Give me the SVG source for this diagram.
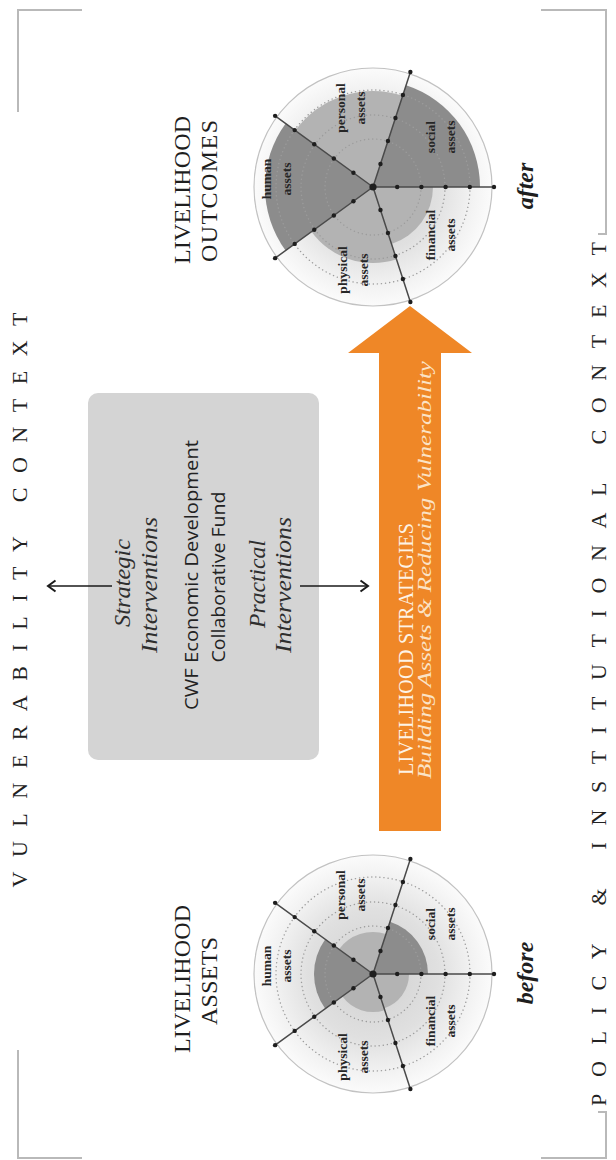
<svg xmlns="http://www.w3.org/2000/svg" xmlns:xlink="http://www.w3.org/1999/xlink" width="616" height="1160" viewBox="0 0 616 1160">
<defs>
<style>
.serif{font-family:"Liberation Serif","Times New Roman",serif;}
.sans{font-family:"Open Sans","Liberation Sans",Arial,sans-serif;}
.lbl{font-family:"Liberation Serif","Times New Roman",serif;font-size:13.5px;font-weight:bold;fill:#262626;}
.title{font-family:"Liberation Serif","Times New Roman",serif;font-size:24px;fill:#1e1e1e;}
.ctx{font-family:"Liberation Serif","Times New Roman",serif;font-size:22px;fill:#222;}
.ital{font-family:"Liberation Serif","Times New Roman",serif;font-style:italic;font-size:23px;fill:#2e2e2e;}
.bi{font-family:"Liberation Serif","Times New Roman",serif;font-style:italic;font-weight:bold;font-size:24px;fill:#1e1e1e;}
.dark{fill:#8c8c8c;}
.mid{fill:#b3b3b3;}
.ring{fill:none;stroke:#9c9c9c;stroke-width:1.4;stroke-dasharray:0.1 4;stroke-linecap:round;}
.axis{stroke:#4a4a4a;stroke-width:1.5;fill:none;}
.dot{fill:#1e1e1e;}
.bracket{stroke:#b9b9b9;stroke-width:2;fill:none;}
.conn{stroke:#1a1a1a;stroke-width:1.6;fill:none;}
</style>
<radialGradient id="bg" cx="50%" cy="50%" r="50%">
<stop offset="0" stop-color="#cfcfcf"/>
<stop offset="0.55" stop-color="#e0e0e0"/>
<stop offset="0.85" stop-color="#f3f3f3"/>
<stop offset="1" stop-color="#fbfbfb"/>
</radialGradient>
<marker id="chev" markerUnits="userSpaceOnUse" markerWidth="12" markerHeight="14" refX="9" refY="7" orient="auto">
<path d="M1.5,1.5 L9,7 L1.5,12.5" fill="none" stroke="#1a1a1a" stroke-width="2" stroke-linejoin="miter"/>
</marker>
<g id="axes">
<path class="axis" d="M0,0 L121,0 M0,0 L37.39,-115.07 M0,0 L-97.89,-71.15 M0,0 L-97.89,71.15 M0,0 L37.39,115.07"/>
<g class="dot">
<circle cx="0" cy="0" r="3.6"/>
<circle cx="24.2" cy="0" r="2.2"/><circle cx="48.4" cy="0" r="2.2"/><circle cx="72.6" cy="0" r="2.2"/><circle cx="96.8" cy="0" r="2.2"/><circle cx="121" cy="0" r="2.2"/>
<circle cx="7.48" cy="-23.01" r="2.2"/><circle cx="14.96" cy="-46.03" r="2.2"/><circle cx="22.43" cy="-69.04" r="2.2"/><circle cx="29.91" cy="-92.06" r="2.2"/><circle cx="37.39" cy="-115.07" r="2.2"/>
<circle cx="-19.58" cy="-14.23" r="2.2"/><circle cx="-39.16" cy="-28.46" r="2.2"/><circle cx="-58.73" cy="-42.69" r="2.2"/><circle cx="-78.31" cy="-56.92" r="2.2"/><circle cx="-97.89" cy="-71.15" r="2.2"/>
<circle cx="-19.58" cy="14.23" r="2.2"/><circle cx="-39.16" cy="28.46" r="2.2"/><circle cx="-58.73" cy="42.69" r="2.2"/><circle cx="-78.31" cy="56.92" r="2.2"/><circle cx="-97.89" cy="71.15" r="2.2"/>
<circle cx="7.48" cy="23.01" r="2.2"/><circle cx="14.96" cy="46.03" r="2.2"/><circle cx="22.43" cy="69.04" r="2.2"/><circle cx="29.91" cy="92.06" r="2.2"/><circle cx="37.39" cy="115.07" r="2.2"/>
</g>
</g>
<g id="rings">
<circle class="ring" r="48"/><circle class="ring" r="72"/><circle class="ring" r="97"/>
</g>
</defs>

<rect width="616" height="1160" fill="#ffffff"/>

<!-- context frames -->
<g id="context-vulnerability">
<path class="bracket" d="M82,10 L18,10 L18,112"/>
<path class="bracket" d="M18,1050 L18,1158 L82,1158"/>
<text class="ctx" transform="translate(27,600) rotate(-90)" text-anchor="middle" textLength="575" lengthAdjust="spacing">VULNERABILITY CONTEXT</text>
</g>
<g id="context-policy">
<path class="bracket" d="M541,10 L606,10 L606,234 L598,234"/>
<path class="bracket" d="M598,1112 L606,1112 L606,1158 L541,1158"/>
<text class="ctx" transform="translate(606,674) rotate(-90)" text-anchor="middle" textLength="864" lengthAdjust="spacing">POLICY &amp; INSTITUTIONAL CONTEXT</text>
</g>

<!-- after chart -->
<g id="chart-after" transform="translate(373,187)">
<circle r="119" fill="url(#bg)" stroke="#c2c2c2" stroke-width="1.2"/>
<path class="dark" d="M0,0 L33.06,-101.76 A107,107 0 0 1 107,0 Z"/>
<path class="mid" d="M0,0 L60,0 A60,60 0 0 1 18.54,57.06 Z"/>
<path class="mid" d="M0,0 L23.48,72.28 A76,76 0 0 1 -61.48,44.69 Z"/>
<path class="dark" d="M0,0 L-87.37,63.5 A108,108 0 0 1 -87.37,-63.5 Z"/>
<path class="mid" d="M0,0 L-77.66,-56.45 A96,96 0 0 1 29.66,-91.3 Z"/>
<use href="#rings" xlink:href="#rings"/>
<use href="#axes" xlink:href="#axes"/>
<g text-anchor="middle">
<text class="lbl" transform="translate(-102,-8) rotate(-90)">human</text>
<text class="lbl" transform="translate(-82,-8) rotate(-90)">assets</text>
<text class="lbl" transform="translate(-28,-79) rotate(-90)">personal</text>
<text class="lbl" transform="translate(-8,-79) rotate(-90)">assets</text>
<text class="lbl" transform="translate(62,-50) rotate(-90)">social</text>
<text class="lbl" transform="translate(82,-50) rotate(-90)">assets</text>
<text class="lbl" transform="translate(62,48) rotate(-90)">financial</text>
<text class="lbl" transform="translate(82,48) rotate(-90)">assets</text>
<text class="lbl" transform="translate(-26,83) rotate(-90)">physical</text>
<text class="lbl" transform="translate(-5,83) rotate(-90)">assets</text>
</g>
</g>

<!-- before chart -->
<g id="chart-before" transform="translate(373,974)">
<circle r="119" fill="url(#bg)" stroke="#c2c2c2" stroke-width="1.2"/>
<path class="dark" d="M0,0 L17,-52.31 A55,55 0 0 1 55,0 Z"/>
<path class="mid" d="M0,0 L36,0 A36,36 0 0 1 11.12,34.24 Z"/>
<path class="mid" d="M0,0 L11.74,36.14 A38,38 0 0 1 -30.74,22.34 Z"/>
<path class="dark" d="M0,0 L-47.73,34.69 A59,59 0 0 1 -47.73,-34.69 Z"/>
<path class="mid" d="M0,0 L-33.98,-24.7 A42,42 0 0 1 12.98,-39.94 Z"/>
<use href="#rings" xlink:href="#rings"/>
<use href="#axes" xlink:href="#axes"/>
<g text-anchor="middle">
<text class="lbl" transform="translate(-102,-8) rotate(-90)">human</text>
<text class="lbl" transform="translate(-82,-8) rotate(-90)">assets</text>
<text class="lbl" transform="translate(-28,-79) rotate(-90)">personal</text>
<text class="lbl" transform="translate(-8,-79) rotate(-90)">assets</text>
<text class="lbl" transform="translate(62,-50) rotate(-90)">social</text>
<text class="lbl" transform="translate(82,-50) rotate(-90)">assets</text>
<text class="lbl" transform="translate(62,47) rotate(-90)">financial</text>
<text class="lbl" transform="translate(82,47) rotate(-90)">assets</text>
<text class="lbl" transform="translate(-26,83) rotate(-90)">physical</text>
<text class="lbl" transform="translate(-5,83) rotate(-90)">assets</text>
</g>
</g>

<!-- titles -->
<g id="title-outcomes" text-anchor="middle">
<text class="title" transform="translate(190,190) rotate(-90)" textLength="148" lengthAdjust="spacing">LIVELIHOOD</text>
<text class="title" transform="translate(216.5,191) rotate(-90)" textLength="142" lengthAdjust="spacing">OUTCOMES</text>
</g>
<g id="title-assets" text-anchor="middle">
<text class="title" transform="translate(190,979) rotate(-90)" textLength="148" lengthAdjust="spacing">LIVELIHOOD</text>
<text class="title" transform="translate(216.5,981) rotate(-90)" textLength="88" lengthAdjust="spacing">ASSETS</text>
</g>
<g id="label-after">
<text class="bi" transform="translate(533,186) rotate(-90)" text-anchor="middle">after</text>
</g>
<g id="label-before">
<text class="bi" transform="translate(533,973) rotate(-90)" text-anchor="middle">before</text>
</g>

<!-- central box -->
<g id="box-cwf">
<rect x="88" y="393" width="231" height="367" rx="10" ry="10" fill="#d4d4d4"/>
<g text-anchor="middle">
<text class="ital" transform="translate(130,583) rotate(-90)" textLength="88" lengthAdjust="spacingAndGlyphs">Strategic</text>
<text class="ital" transform="translate(157,585) rotate(-90)" textLength="136" lengthAdjust="spacingAndGlyphs">Interventions</text>
<text class="sans" font-size="19" fill="#222" transform="translate(198,575) rotate(-90)" textLength="270" lengthAdjust="spacingAndGlyphs">CWF Economic Development</text>
<text class="sans" font-size="19" fill="#222" transform="translate(225,577) rotate(-90)" textLength="171" lengthAdjust="spacingAndGlyphs">Collaborative Fund</text>
<text class="ital" transform="translate(265,584) rotate(-90)" textLength="88" lengthAdjust="spacingAndGlyphs">Practical</text>
<text class="ital" transform="translate(291,585) rotate(-90)" textLength="136" lengthAdjust="spacingAndGlyphs">Interventions</text>
</g>
</g>

<!-- livelihood strategies arrow -->
<g id="arrow-strategies">
<polygon points="410,306 472,353 441,353 441,831 379,831 379,353 348,353" fill="#ef8727"/>
<text class="serif" font-size="20" fill="#fdf3e6" transform="translate(413,649) rotate(-90)" text-anchor="middle" textLength="252" lengthAdjust="spacing">LIVELIHOOD STRATEGIES</text>
<text class="serif" font-size="19" font-style="italic" fill="#fbe3c6" transform="translate(431,570) rotate(-90)" text-anchor="middle" textLength="418" lengthAdjust="spacingAndGlyphs">Building Assets &amp; Reducing Vulnerability</text>
</g>

<!-- connectors -->
<g id="connectors">
<line class="conn" x1="112" y1="586" x2="48" y2="586" marker-end="url(#chev)"/>
<line class="conn" x1="300" y1="586" x2="368" y2="586" marker-end="url(#chev)"/>
</g>
</svg>
